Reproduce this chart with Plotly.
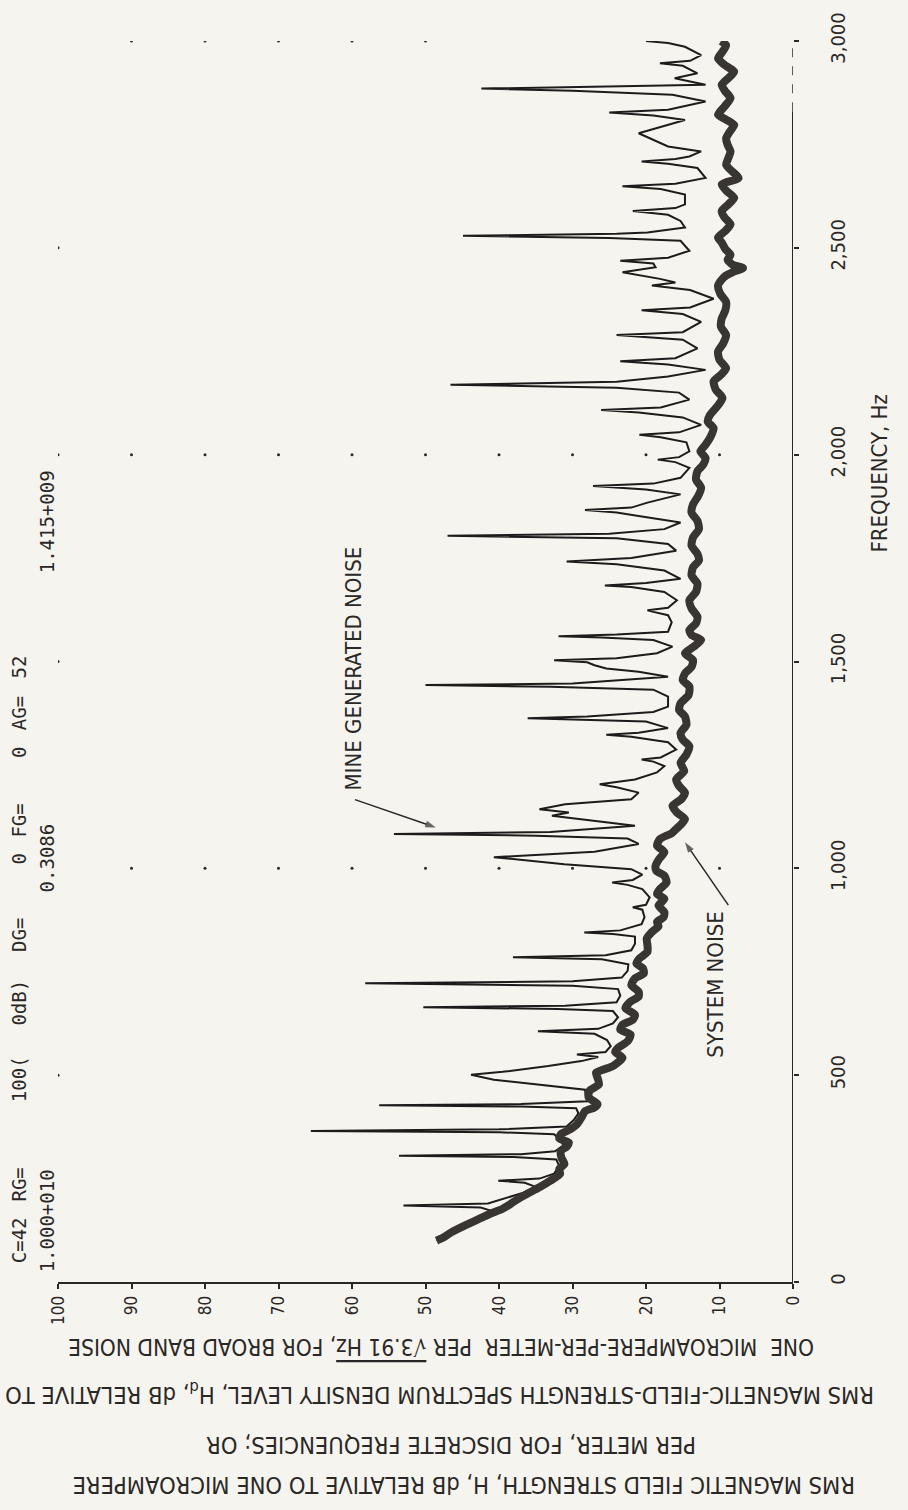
import plotly.graph_objects as go

# ---------------------------------------------------------------- data
# System noise (broad band floor): frequency in Hz, level in dB
SYS_FREQ = [100, 108, 120, 137, 150, 165, 177, 189, 200, 213, 229, 245, 261, 273, 285, 300, 317, 327,
            337, 347, 357, 370, 381, 397, 413, 422, 430, 446, 462, 478, 494, 506, 522, 542, 556, 566,
            582, 598, 610, 622, 634, 646, 662, 678, 690, 702, 718, 734, 746, 758, 770, 782, 798, 814,
            830, 846, 860, 870, 882, 894, 910, 926, 938, 950, 966, 982, 994, 1006, 1023, 1039, 1055,
            1071, 1085, 1095, 1107, 1119, 1135, 1151, 1167, 1183, 1199, 1215, 1235, 1255, 1275, 1295,
            1311, 1327, 1347, 1367, 1383, 1399, 1419, 1439, 1455, 1471, 1487, 1503, 1520, 1536, 1552,
            1564, 1576, 1592, 1608, 1628, 1648, 1668, 1688, 1708, 1728, 1744, 1760, 1780, 1800, 1820,
            1840, 1860, 1880, 1900, 1920, 1940, 1960, 1976, 1992, 2008, 2024, 2044, 2064, 2080, 2096,
            2117, 2137, 2157, 2177, 2193, 2209, 2229, 2249, 2269, 2289, 2309, 2329, 2349, 2369, 2389,
            2409, 2429, 2443, 2451, 2459, 2471, 2483, 2497, 2513, 2525, 2541, 2557, 2573, 2589, 2605,
            2621, 2637, 2653, 2669, 2685, 2701, 2717, 2733, 2749, 2765, 2781, 2797, 2809, 2822, 2842,
            2862, 2878, 2894, 2910, 2926, 2942, 2958, 2974, 2990, 3000]
SYS_DB = [48.5, 47.5, 46.5, 44.6, 43.0, 41.2, 39.5, 38.4, 37.5, 36.2, 34.5, 33.0, 31.7, 31.8, 31.1, 31.5,
          31.6, 30.8, 30.5, 31.8, 31.6, 30.2, 29.4, 28.8, 28.3, 27.0, 26.6, 27.8, 27.7, 26.4, 26.6, 26.8,
          24.5, 23.2, 24.2, 23.8, 22.5, 22.1, 23.5, 23.2, 21.8, 21.5, 22.8, 22.1, 21.0, 21.0, 22.0, 21.5,
          20.3, 20.4, 21.3, 20.9, 19.8, 19.8, 19.9, 19.2, 18.3, 18.5, 17.6, 17.5, 18.3, 17.5, 18.5, 18.1,
          17.2, 17.5, 18.6, 18.7, 18.2, 17.5, 18.5, 18.1, 16.5, 15.9, 15.2, 14.7, 15.8, 16.4, 15.2, 14.7,
          15.5, 15.9, 14.8, 15.3, 14.5, 14.1, 15.0, 15.3, 14.5, 14.7, 15.5, 15.3, 14.2, 14.1, 15.0, 14.7,
          13.8, 13.6, 14.7, 13.5, 12.5, 13.8, 14.1, 13.2, 13.0, 13.8, 14.1, 13.2, 13.0, 13.8, 13.6, 12.8,
          13.0, 13.8, 13.6, 12.8, 13.0, 13.8, 13.6, 12.9, 12.5, 13.2, 13.0, 12.2, 11.9, 12.6, 11.9, 11.2,
          10.8, 11.6, 11.3, 10.3, 9.6, 10.5, 10.8, 9.8, 9.1, 10.0, 10.2, 9.5, 9.1, 9.8, 9.7, 9.2, 9.1,
          9.9, 10.2, 9.4, 8.0, 6.8, 8.2, 8.9, 8.5, 9.2, 9.7, 10.2, 9.2, 8.5, 9.3, 9.7, 8.8, 8.0, 9.0,
          9.7, 7.4, 8.3, 9.1, 8.8, 8.5, 8.9, 9.1, 8.6, 8.0, 9.0, 10.2, 9.3, 8.5, 9.2, 9.7, 8.8, 8.0,
          9.3, 10.2, 9.6, 9.1, 9.8]

# Mine generated noise (discrete lines over the floor)
MINE_FREQ = [100, 112, 128, 145, 160, 172, 180, 185, 190, 200, 215, 230, 240, 245, 250, 262, 280, 296,
             302, 305, 309, 316, 330, 345, 357, 362, 365, 369, 376, 392, 408, 420, 424, 427, 430, 437,
             450, 465, 475, 482, 489, 501, 508, 522, 534, 544, 550, 556, 570, 585, 600, 606, 612, 625,
             640, 655, 660, 664, 668, 676, 692, 708, 716, 722, 727, 736, 752, 768, 780, 785, 790, 802,
             818, 835, 841, 845, 850, 865, 882, 900, 906, 912, 930, 950, 960, 966, 972, 985, 998, 1010,
             1019, 1027, 1040, 1059, 1072, 1079, 1083, 1088, 1103, 1115, 1127, 1135, 1143, 1155, 1167,
             1183, 1196, 1203, 1209, 1215, 1232, 1247, 1258, 1263, 1268, 1287, 1305, 1318, 1323, 1328,
             1339, 1355, 1360, 1363, 1367, 1378, 1391, 1415, 1432, 1439, 1443, 1447, 1463, 1475, 1483,
             1491, 1498, 1503, 1508, 1520, 1536, 1552, 1558, 1561, 1565, 1572, 1595, 1612, 1620, 1624,
             1630, 1648, 1668, 1680, 1684, 1690, 1700, 1720, 1735, 1742, 1750, 1768, 1784, 1798, 1804,
             1809, 1820, 1836, 1852, 1860, 1866, 1872, 1884, 1904, 1916, 1924, 1930, 1944, 1968, 1982,
             1988, 1994, 2008, 2030, 2042, 2048, 2054, 2072, 2090, 2102, 2108, 2114, 2133, 2150, 2162,
             2169, 2176, 2189, 2205, 2218, 2226, 2233, 2257, 2278, 2289, 2296, 2321, 2340, 2349, 2356,
             2377, 2398, 2409, 2416, 2425, 2441, 2453, 2462, 2469, 2476, 2493, 2517, 2524, 2529, 2534,
             2537, 2549, 2565, 2580, 2589, 2596, 2605, 2629, 2642, 2649, 2655, 2669, 2693, 2703, 2709,
             2715, 2721, 2733, 2745, 2777, 2809, 2820, 2827, 2834, 2854, 2870, 2880, 2885, 2890, 2894,
             2910, 2922, 2940, 2946, 2952, 2966, 2986, 2995, 3000]
MINE_DB = [48.5, 47.0, 45.5, 43.8, 42.3, 41.0, 42.5, 53.0, 41.5, 39.5, 36.8, 35.0, 36.5, 40.1, 34.5, 32.5,
           31.8, 32.2, 38.0, 53.6, 37.0, 32.4, 31.2, 31.8, 32.5, 40.0, 65.6, 40.0, 30.8, 29.8, 29.2, 29.5,
           37.0, 56.3, 37.0, 28.0, 28.2, 28.3, 33.5, 36.7, 40.7, 43.8, 39.5, 33.3, 28.8, 26.5, 29.4, 25.5,
           24.8, 25.3, 27.0, 34.7, 26.5, 24.5, 23.8, 24.5, 32.0, 50.3, 31.0, 24.0, 23.5, 23.8, 30.0, 58.2,
           30.0, 23.3, 22.5, 22.4, 26.0, 38.1, 25.5, 22.0, 21.5, 21.5, 24.5, 28.4, 23.5, 20.6, 20.2, 20.5,
           21.8, 20.0, 19.5, 20.5, 22.5, 24.6, 21.8, 20.5, 22.0, 31.1, 36.0, 40.7, 27.0, 21.0, 22.5, 35.0,
           54.3, 33.0, 21.5, 27.0, 32.8, 30.5, 34.5, 31.0, 22.0, 21.0, 24.0, 26.3, 23.5, 21.5, 18.5, 17.5,
           19.0, 20.6, 18.0, 15.9, 17.0, 22.0, 25.4, 21.0, 17.0, 20.0, 30.0, 36.1, 28.0, 19.0, 17.0, 17.0,
           19.0, 33.0, 50.0, 30.0, 17.0, 21.0, 25.4, 27.0, 28.0, 32.5, 24.0, 18.5, 16.4, 19.0, 26.0, 31.9,
           24.0, 17.0, 16.5, 17.0, 19.0, 19.8, 17.0, 15.8, 17.5, 22.0, 25.6, 20.0, 15.3, 17.5, 24.0, 30.8,
           22.0, 15.9, 17.0, 24.0, 47.0, 25.0, 17.5, 15.3, 21.0, 24.0, 28.3, 22.0, 19.8, 15.3, 20.0, 27.2,
           19.0, 15.3, 14.1, 16.0, 18.4, 15.5, 14.1, 14.5, 18.0, 20.9, 15.5, 12.5, 15.0, 21.0, 26.1, 18.0,
           14.1, 15.5, 24.0, 46.6, 24.0, 17.0, 11.9, 17.0, 23.5, 16.0, 13.0, 15.0, 24.0, 15.0, 12.5, 15.0,
           20.6, 14.0, 10.8, 14.0, 19.2, 16.0, 18.1, 23.2, 18.7, 19.0, 23.5, 17.0, 14.1, 15.3, 25.0, 44.9,
           24.0, 19.8, 14.7, 15.3, 17.0, 21.8, 16.0, 14.7, 14.7, 18.0, 23.2, 16.0, 11.9, 13.0, 17.0, 20.6,
           16.0, 14.1, 12.5, 17.0, 21.0, 14.7, 19.0, 25.0, 17.0, 11.9, 16.4, 30.0, 42.4, 28.0, 11.9, 16.1,
           13.0, 15.0, 18.1, 14.0, 12.5, 14.7, 17.0, 20.0]

# Plotter reference dots (frequency row, level)
GRID_DOT_FREQ = [500, 1500, 2500,
                 1000, 1000, 1000, 1000, 1000, 1000, 1000, 1000, 1000,
                 2000, 2000, 2000, 2000, 2000, 2000, 2000, 2000, 2000, 2000,
                 3000, 3000, 3000, 3000, 3000]
GRID_DOT_DB = [100, 100, 100,
               90, 80, 70, 60, 50, 40, 30, 20, 10,
               100, 90, 80, 70, 60, 50, 40, 30, 20, 10,
               90, 80, 70, 60, 50]

# Callout arrows: (tail level, head level), (tail freq, head freq)
MINE_ARROW_DB = [59.6, 48.6]
MINE_ARROW_FREQ = [1166, 1099]
SYS_ARROW_DB = [8.8, 14.7]
SYS_ARROW_FREQ = [911, 1063]

DB_TICKS = [0, 10, 20, 30, 40, 50, 60, 70, 80, 90, 100]
DB_TICK_TEXT = ["0", "10", "20", "30", "40", "50", "60", "70", "80", "90", "100"]
FREQ_TICKS = [0, 500, 1000, 1500, 2000, 2500, 3000]
FREQ_TICK_TEXT = ["0", "500", "1,000", "1,500", "2,000", "2,500", "3,000"]

# ---------------------------------------------------------------- style
W, H = 908, 1510
PL, PR, PT, PB = 58, 793, 34, 1282          # plot box in pixels
INK = "#2a2827"
PAPER = "#f6f4ee"
LETTER = "DejaVu Sans Condensed, Liberation Sans Narrow, Roboto Condensed, Arial Narrow, DejaVu Sans"
MONO = "DejaVu Sans Mono, Liberation Mono, monospace"


def px(x):
    return (x - PL) / (PR - PL)


def py(y):
    return (PB - y) / (PB - PT)


fig = go.Figure()

fig.add_trace(go.Scatter(
    x=GRID_DOT_DB, y=GRID_DOT_FREQ, mode="markers",
    marker=dict(size=3, color=INK), hoverinfo="skip", showlegend=False))

fig.add_trace(go.Scatter(
    x=MINE_DB, y=MINE_FREQ, mode="lines", name="Mine generated noise",
    line=dict(color="#1e1c1b", width=2), showlegend=False))

fig.add_trace(go.Scatter(
    x=SYS_DB, y=SYS_FREQ, mode="lines", name="System noise",
    line=dict(color="#383533", width=8, shape="spline", smoothing=0.6), showlegend=False))

# callout arrows: a line with an arrowhead marker at its end
for adb, afr in [(MINE_ARROW_DB, MINE_ARROW_FREQ), (SYS_ARROW_DB, SYS_ARROW_FREQ)]:
    fig.add_trace(go.Scatter(
        x=adb, y=afr, mode="lines+markers", hoverinfo="skip", showlegend=False,
        line=dict(color=INK, width=1.5),
        marker=dict(symbol=["circle", "arrow"], size=[0, 11], color=INK, angleref="previous",
                    line=dict(width=0))))

# frequency axis line, broken near the top
fig.add_shape(type="line", xref="x", yref="y", x0=0, x1=0, y0=0, y1=2830,
              line=dict(color=INK, width=2))
fig.add_shape(type="line", xref="x", yref="y", x0=0, x1=0, y0=2830, y1=3000,
              line=dict(color=INK, width=1.5, dash="dash"))

ann = []


def text(x, y, s, size, angle=-90, family=LETTER):
    ann.append(dict(x=px(x), y=py(y), xref="paper", yref="paper", text=s, showarrow=False,
                    textangle=angle, xanchor="center", yanchor="middle",
                    font=dict(family=family, size=size, color=INK)))


# run header printed by the analyser
for s, yy in [("C=42", 1240), ("RG=", 1184), ("100(", 1078), ("0dB)", 1001), ("DG=", 933),
              ("0", 857), ("FG=", 818), ("0", 750), ("AG=", 710), ("52", 664)]:
    text(19, yy, s, 19, family=MONO)
for s, yy in [("1.000+010", 1221), ("0.3086", 856), ("1.415+009", 518)]:
    text(47, yy, s, 19, family=MONO)

# callouts
text(353, 665, "MINE GENERATED NOISE", 22)
text(716, 983, "SYSTEM NOISE", 22)
text(880, 469, "FREQUENCY, Hz", 22)

# level axis title (printed upside down on the rotated sheet)
text(441, 1348, "ONE  MICROAMPERE-PER-METER  PER <span style='text-decoration:overline'>√3.91 Hz</span>, FOR BROAD BAND NOISE", 22.5, 180)
text(440, 1394, "RMS MAGNETIC-FIELD-STRENGTH SPECTRUM DENSITY LEVEL, H<sub>d</sub>, dB RELATIVE TO", 23.5, 180)
text(451, 1446, "PER METER, FOR DISCRETE FREQUENCIES; OR", 23.5, 180)
text(464, 1486, "RMS MAGNETIC FIELD STRENGTH, H, dB RELATIVE TO ONE MICROAMPERE", 23.5, 180)

fig.update_layout(
    width=W, height=H,
    margin=dict(l=PL, r=W - PR, t=PT, b=H - PB, pad=0),
    paper_bgcolor=PAPER, plot_bgcolor=PAPER,
    showlegend=False,
    annotations=ann,
    xaxis=dict(range=[100, 0], showgrid=False, zeroline=False,
               showline=True, linecolor=INK, linewidth=2,
               ticks="outside", ticklen=5, tickwidth=2, tickcolor=INK,
               tickvals=DB_TICKS, ticktext=DB_TICK_TEXT, tickangle=-90,
               tickfont=dict(family=LETTER, size=17, color=INK), ticklabelstandoff=0),
    yaxis=dict(range=[0, 3000], side="right", showgrid=False, zeroline=False, showline=False,
               ticks="outside", ticklen=5, tickwidth=2, tickcolor=INK,
               tickvals=FREQ_TICKS, ticktext=FREQ_TICK_TEXT, tickangle=-90,
               tickfont=dict(family=LETTER, size=20, color=INK), ticklabelstandoff=22),
)

fig.write_html("out.html")
